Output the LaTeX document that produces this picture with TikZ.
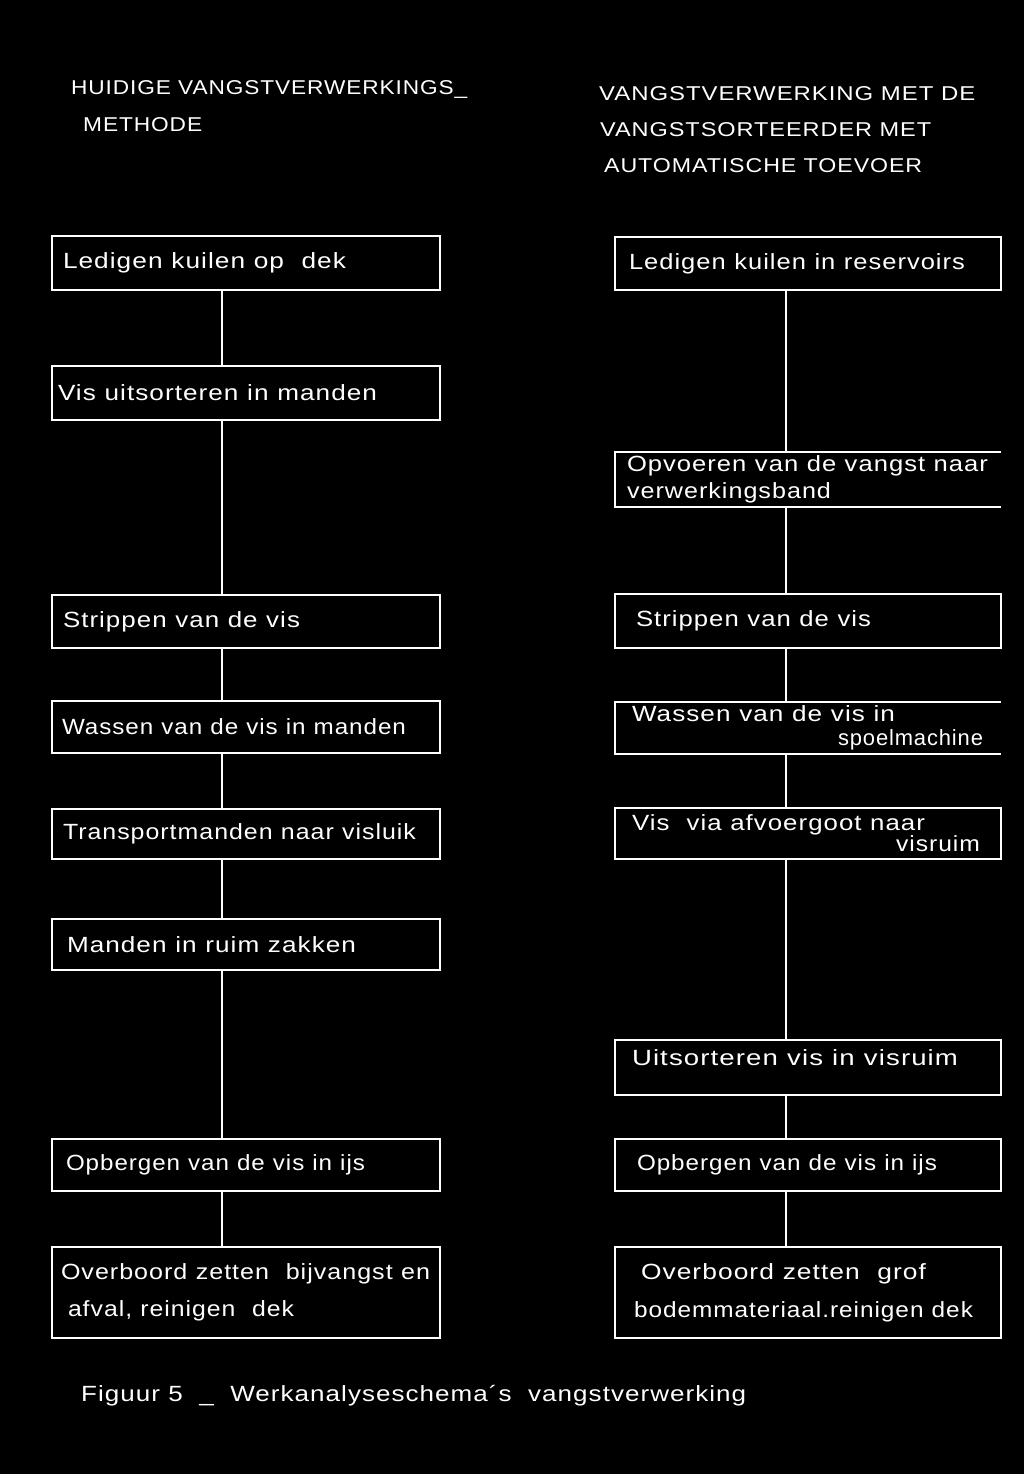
\documentclass[tikz,border=0pt]{standalone}
\usepackage{fontspec}
\setmainfont{Liberation Sans}[LetterSpace=4]
\usetikzlibrary{calc}
\newcommand\tw[2]{\resizebox{#1pt}{\height}{#2}}
\begin{document}
\begin{tikzpicture}[x=1pt,y=-1pt,
  box/.style={draw=white, line width=2.2pt, text=white, anchor=north west, outer sep=0pt, inner ysep=0pt, align=left, font=\fontsize{22}{26}\selectfont},
  openbox/.style={box, draw=none},
  conn/.style={draw=white, line width=2pt},
  head/.style={text=white, anchor=base west, inner sep=0pt, font=\fontsize{20}{24}\selectfont}]
\fill[black] (0,0) rectangle (1024,1474);
\useasboundingbox (0,0) rectangle (1024,1474);
\coordinate (lx) at (222,0);
\coordinate (rx) at (786,0);
% headers
\node[head] (h1) at (71,95) {\tw{396}{HUIDIGE VANGSTVERWERKINGS\_}};
\node[head] (h2) at (83,132) {\tw{119}{METHODE}};
\node[head] (h3) at (599,101) {\tw{376}{VANGSTVERWERKING MET DE}};
\node[head] (h4) at (600,137) {\tw{331}{VANGSTSORTEERDER MET}};
\node[head] (h5) at (604,173) {\tw{318}{AUTOMATISCHE TOEVOER}};
% left column
\node[box, minimum height=54pt, text width=366pt, inner xsep=11pt] (l1) at (52,236) {\tw{283}{Ledigen kuilen op\ \ dek}};
\node[box, minimum height=54pt, text width=376pt, inner xsep=6pt] (l2) at (52,366) {\tw{319}{Vis uitsorteren in manden}};
\node[box, minimum height=53pt, text width=366pt, inner xsep=11pt] (l3) at (52,595) {\tw{237}{Strippen van de vis}};
\node[box, minimum height=52pt, text width=368pt, inner xsep=10pt] (l4) at (52,701) {\tw{344}{Wassen\ van de vis in manden}};
\node[box, minimum height=50pt, text width=366pt, inner xsep=11pt] (l5) at (52,809) {\tw{353}{Transportmanden naar visluik}};
\node[box, minimum height=51pt, text width=358pt, inner xsep=15pt] (l6) at (52,919) {\tw{289}{Manden in\ ruim\ zakken}};
\node[box, minimum height=52pt, text width=360pt, inner xsep=14pt] (l7) at (52,1139) {\tw{299}{Opbergen van de vis in ijs}};
\node[box, minimum height=91pt, text width=370pt, inner xsep=9pt] (l8) at (52,1247) {\tw{369}{Overboord zetten\ \ bijvangst en}\\[11pt]\hspace*{7pt}\tw{226}{afval, reinigen\ \ dek}};
% right column
\node[box, minimum height=53pt, text width=358pt, inner xsep=14pt] (r1) at (615,237) {\tw{336}{Ledigen kuilen in reservoirs}};
\node[openbox, minimum height=55pt, text width=362pt, inner xsep=12pt] (r2) at (615,452) {\tw{361}{Opvoeren van de vangst naar}\\[1pt]\tw{204}{verwerkingsband}};
\draw[conn, line width=2.2pt] (r2.north east) -- (r2.north west) -- (r2.south west) -- (r2.south east);
\node[box, minimum height=54pt, text width=344pt, inner xsep=21pt] (r3) at (615,594) {\tw{235}{Strippen van de vis}};
\node[openbox, minimum height=52pt, text width=352pt, inner xsep=17pt] (r4) at (615,702) {\tw{263}{Wassen van de vis in}\\[-2pt]\hspace*{206pt}\tw{145}{spoelmachine}};
\draw[conn, line width=2.2pt] (r4.north east) -- (r4.north west) -- (r4.south west) -- (r4.south east);
\node[box, minimum height=51pt, text width=352pt, inner xsep=17pt] (r5) at (615,808) {\tw{293}{Vis\ \ via afvoergoot naar}\\[-5pt]\hspace*{264pt}\tw{84}{visruim}};
\node[box, minimum height=55pt, text width=352pt, inner xsep=17pt, text depth=19pt] (r6) at (615,1040) {\tw{326}{Uitsorteren vis in visruim}};
\node[box, minimum height=52pt, text width=342pt, inner xsep=22pt] (r7) at (615,1139) {\tw{300}{Opbergen van de vis in ijs}};
\node[box, minimum height=91pt, text width=348pt, inner xsep=19pt] (r8) at (615,1247) {\hspace*{7pt}\tw{285}{Overboord zetten\ \ grof}\\[12pt]\tw{339}{bodemmateriaal.reinigen dek}};
% connectors left
\draw[conn] (l1.south -| lx) -- (l2.north -| lx);
\draw[conn] (l2.south -| lx) -- (l3.north -| lx);
\draw[conn] (l3.south -| lx) -- (l4.north -| lx);
\draw[conn] (l4.south -| lx) -- (l5.north -| lx);
\draw[conn] (l5.south -| lx) -- (l6.north -| lx);
\draw[conn] (l6.south -| lx) -- (l7.north -| lx);
\draw[conn] (l7.south -| lx) -- (l8.north -| lx);
% connectors right
\draw[conn] (r1.south -| rx) -- (r2.north -| rx);
\draw[conn] (r2.south -| rx) -- (r3.north -| rx);
\draw[conn] (r3.south -| rx) -- (r4.north -| rx);
\draw[conn] (r4.south -| rx) -- (r5.north -| rx);
\draw[conn] (r5.south -| rx) -- (r6.north -| rx);
\draw[conn] (r6.south -| rx) -- (r7.north -| rx);
\draw[conn] (r7.south -| rx) -- (r8.north -| rx);
% caption
\node[head, font=\fontsize{22}{26}\selectfont] (cap) at (81,1401) {\tw{665}{Figuur 5\ \ \_\ \ Werkanalyseschema´s\ \ vangstverwerking}};
\end{tikzpicture}
\end{document}
